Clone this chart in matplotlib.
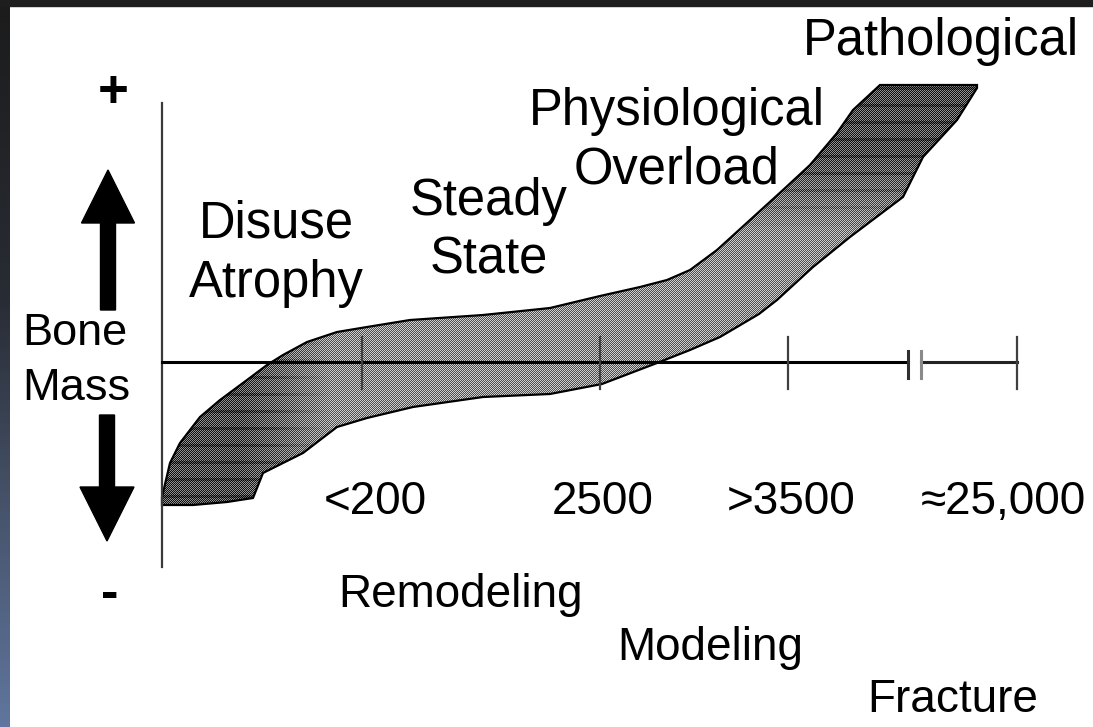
import numpy as np
import matplotlib
matplotlib.use("Agg")
import matplotlib.pyplot as plt
from matplotlib.patches import Polygon, Rectangle

plt.rcParams['font.family'] = ['Liberation Sans', 'DejaVu Sans']

# --- data (schematic units: x = strain scale, y = change of bone mass) ---
upper_x = [0, 8, 18, 38, 58, 85, 105, 121, 145, 175, 205, 248, 321, 388, 438,
           478, 505, 528, 555, 588, 621, 648, 675, 691, 718, 815]
upper_y = [-135, -101, -81, -55, -38, -18, -3, 7, 20, 30, 35, 42, 47, 54, 66,
           75, 82, 92, 112, 142, 172, 197, 229, 252, 277, 277]
lower_x = [0, 31, 65, 91, 101, 141, 175, 205, 251, 321, 388, 440, 495, 528,
           558, 597, 615, 651, 688, 741, 761, 795, 815]
lower_y = [-143, -143, -140, -136, -111, -91, -65, -56, -45, -35, -32, -22, -1,
           12, 25, 48, 62, 95, 125, 165, 205, 242, 274]

tick_x = [200, 438, 626, 855]
tick_labels = ['<200', '2500', '>3500', '\u224825,000']
break_x = [746, 759]

regions = [["Disuse", "Atrophy"], ["Steady", "State"],
           ["Physiological", "Overload"], ["Pathological"]]
region_x = [114, 327, 515, 779]
region_y = [124, 147, 237, 307]

responses = ["Remodeling", "Modeling", "Fracture"]
response_x = [299, 548, 791]
response_y = [-245, -298, -350]

fig = plt.figure(figsize=(10.93, 7.27), dpi=100)
ax = fig.add_axes([0, 0, 1, 1])
ax.set_xlim(-162, 931)
ax.set_ylim(-365, 362)
ax.axis('off')

# ---- dark frame at left / top ----
grad_y = np.linspace(0, 1, 200)
stops = np.array([[28, 28, 28], [40, 44, 52], [70, 82, 105], [96, 118, 158]]) / 255
pos = [0, 0.41, 0.69, 1.0]
cols = np.stack([np.interp(grad_y, pos, stops[:, k]) for k in range(3)], axis=1)
ax.imshow(cols[:, None, :], extent=(-162, -152, -365, 362), aspect='auto', zorder=5)
ax.add_patch(Rectangle((-162, 356), 1093, 6, color='#1e1e1e', zorder=5))

# ---- band texture (halftone look) ----
bx0, bx1, by0, by1 = 0, 816, -144, 278
xx, yy = np.meshgrid(np.arange(bx0, bx1) + 0.5, np.arange(by1, by0, -1) - 0.5)
left = np.clip((170 - xx) / 90, 0, 1)
right = np.clip((yy - 130) / 80, 0, 1)
dark = np.maximum(left, right)
mean = 142 - 62 * dark
stripe = (np.floor(yy) % 17) < 3
mean = mean - 45 * dark * stripe
checker = ((np.floor(xx) + np.floor(yy)) % 2) * 2 - 1
val = np.clip(mean + 65 * checker, 0, 255) / 255

outline = np.column_stack([upper_x + lower_x[::-1], upper_y + lower_y[::-1]])
band = Polygon(outline, closed=True, facecolor='none', edgecolor='black', lw=1.6, zorder=3)
ax.add_patch(band)
im = ax.imshow(val, cmap='gray', vmin=0, vmax=1, extent=(bx0, bx1, by0, by1),
               interpolation='nearest', aspect='auto', zorder=2)
im.set_clip_path(band)

# ---- axes ----
ax.plot([0, 0], [-205, 259], color='#3a3a3a', lw=1.6, zorder=4)
ax.plot([0, break_x[0]], [0, 0], color='black', lw=2.2, zorder=4)
ax.plot([break_x[1], tick_x[-1]], [0, 0], color='#222222', lw=2.2, zorder=4)
for tx in tick_x:
    ax.plot([tx, tx], [-27, 25], color='#404040', lw=1.6, zorder=4)
ax.plot([break_x[0]] * 2, [-16, 11], color='#303030', lw=2.2, zorder=4)
ax.plot([break_x[1]] * 2, [-16, 11], color='#8a8a8a', lw=2.2, zorder=4)

for tx, lab in zip(tick_x, tick_labels):
    off = 13 if lab.startswith('<') else (-14 if lab.startswith('\u2248') else 3)
    ax.text(tx + off, -152, lab, fontsize=33, ha='center', va='baseline')

# ---- bone mass arrows and labels ----
ax.arrow(-54, 52, 0, 140, width=15, head_width=53, head_length=53,
         length_includes_head=True, color='black', zorder=4)
ax.arrow(-55, -53, 0, -126, width=15, head_width=54, head_length=54,
         length_includes_head=True, color='black', zorder=4)
ax.text(-49, 255, '+', fontsize=38, fontweight='bold', ha='center', va='baseline')
ax.text(-52, -247, '-', fontsize=38, fontweight='bold', ha='center', va='baseline')
ax.text(-87, 17, 'Bone', fontsize=32.5, ha='center', va='baseline')
ax.text(-86, -38, 'Mass', fontsize=32.5, ha='center', va='baseline')

# ---- region labels ----
for lines, rx, ry in zip(regions, region_x, region_y):
    for i, line in enumerate(lines):
        ax.text(rx, ry - 59 * i, line, fontsize=36.5, ha='center', va='baseline')

for lab, rx, ry in zip(responses, response_x, response_y):
    ax.text(rx, ry, lab, fontsize=33, ha='center', va='baseline')

fig.savefig('out.png', dpi=100, facecolor='white')
